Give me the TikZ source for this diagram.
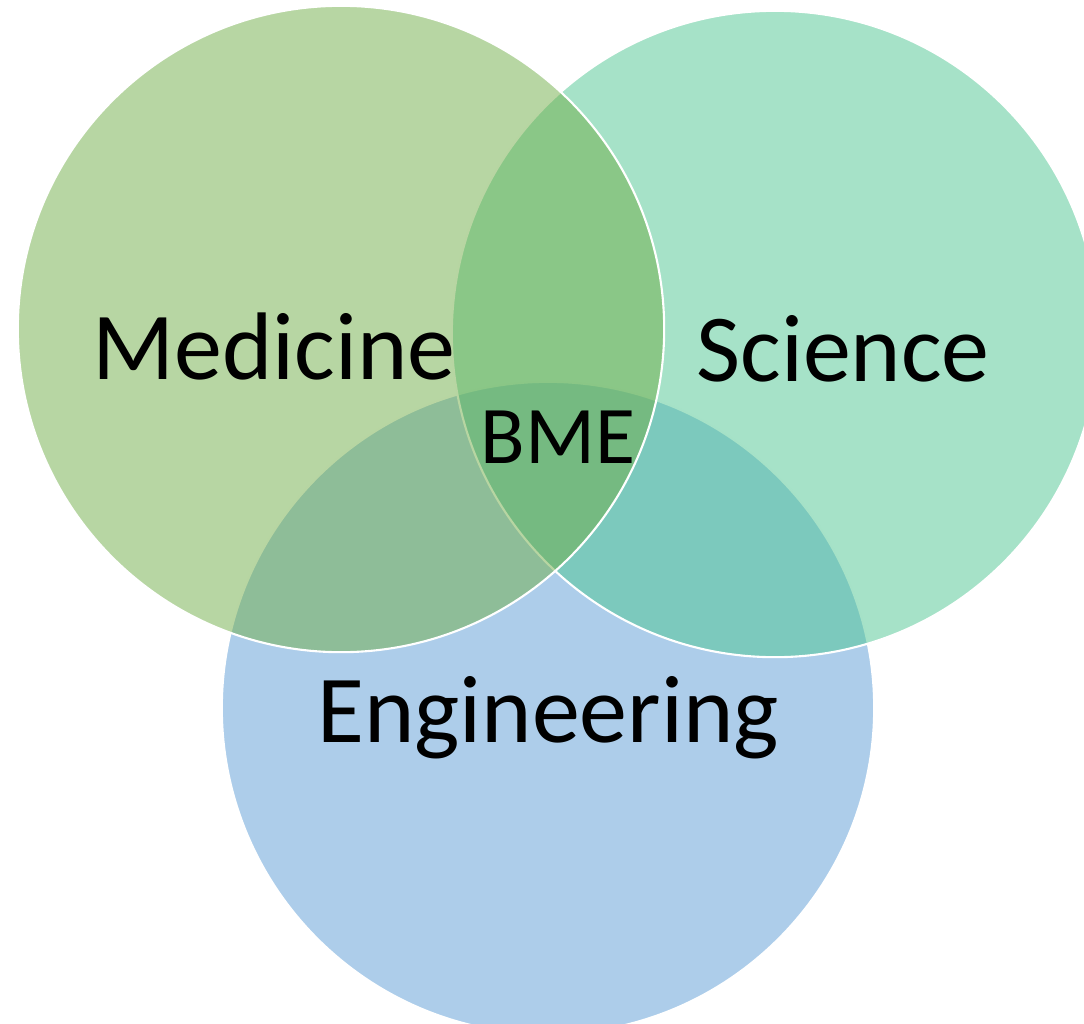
\documentclass[tikz,border=0pt]{standalone}
\usepackage{fontspec}
\setmainfont{Carlito}
\definecolor{medgreen}{HTML}{70AD47}
\definecolor{scigreen}{HTML}{4DC591}
\definecolor{engblue}{HTML}{5B9BD5}

\begin{document}
\begin{tikzpicture}[x=0.01cm,y=-0.01cm,
  cercle/.style={circle,draw=white,line width=0.6pt,fill opacity=0.5,inner sep=0pt,minimum size=6.46cm},
  titre/.style={anchor=base,font=\fontsize{27.3}{32}\selectfont}]
\useasboundingbox (0,0) rectangle (1084,1024);
\clip (0,0) rectangle (1084,1024);
% Diagramme de Venn
\node[cercle,fill=engblue,minimum size=6.52cm] (E) at (548,708) {};
\node[cercle,fill=scigreen] (S) at (775,334) {};
\node[cercle,fill=medgreen] (M) at (341,329) {};
\node[titre] (med) at (274,379) {Medicine};
\node[titre] (sci) at (843,381) {Science};
\node[titre] (eng) at (548,742) {Engineering};
\node[titre,font=\fontsize{23.3}{28}\selectfont] (bme) at (558,463) {BME};
\end{tikzpicture}
\end{document}
